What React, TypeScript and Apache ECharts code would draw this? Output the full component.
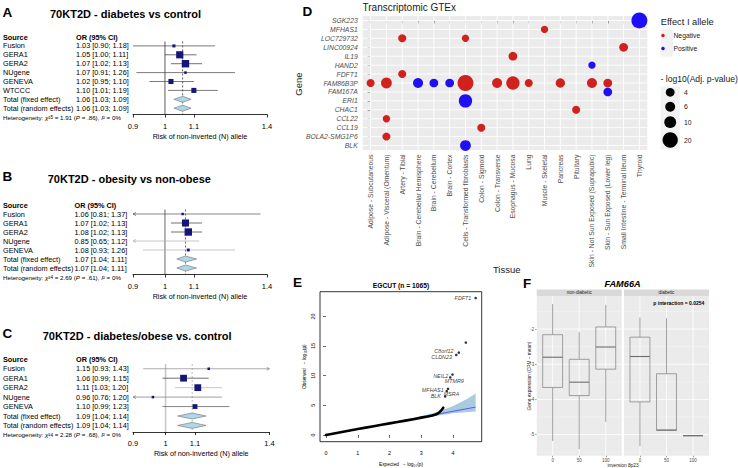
import React, { useEffect, useRef } from 'react';
import * as echarts from 'echarts';

const FONT = '"Liberation Sans", Arial, Helvetica, sans-serif';

// ---------------- Panels A–C : forest plots ----------------
const forestTicks = [0.9, 1, 1.1, 1.4];

const aStudies = ['Fusion', 'GERA1', 'GERA2', 'NUgene', 'GENEVA', 'WTCCC'];
const aOR = [1.03, 1.05, 1.07, 1.07, 1.02, 1.1];
const aLower = [0.9, 1.0, 1.02, 0.91, 0.95, 1.01];
const aUpper = [1.18, 1.11, 1.13, 1.26, 1.1, 1.19];
const aWeight = [5.5, 30, 32, 3.8, 15, 15];
const aFixed = [1.06, 1.03, 1.09];
const aRandom = [1.06, 1.03, 1.09];
const aHeterogeneity = ['5', '1.91', '.86', '0%'];

const bStudies = ['Fusion', 'GERA1', 'GERA2', 'NUgene', 'GENEVA'];
const bOR = [1.06, 1.07, 1.08, 0.85, 1.08];
const bLower = [0.81, 1.02, 1.02, 0.65, 0.93];
const bUpper = [1.37, 1.13, 1.13, 1.12, 1.26];
const bWeight = [5, 41, 45, 2, 7];
const bFixed = [1.07, 1.04, 1.11];
const bRandom = [1.07, 1.04, 1.11];
const bHeterogeneity = ['4', '2.69', '.61', '0%'];

const cStudies = ['Fusion', 'GERA1', 'GERA2', 'NUgene', 'GENEVA'];
const cOR = [1.15, 1.06, 1.11, 0.96, 1.1];
const cLower = [0.93, 0.99, 1.03, 0.76, 0.99];
const cUpper = [1.43, 1.15, 1.2, 1.2, 1.23];
const cWeight = [5, 36, 36, 5, 18];
const cFixed = [1.09, 1.04, 1.14];
const cRandom = [1.09, 1.04, 1.14];
const cHeterogeneity = ['4', '2.28', '.68', '0%'];

// ---------------- Panel D : GTEx bubbles ----------------
const tissues = [
  'Adipose - Subcutaneous', 'Adipose - Visceral (Omentum)', 'Artery - Tibial',
  'Brain - Cerebellar Hemisphere', 'Brain - Cerebellum', 'Brain - Cortex',
  'Cells - Transformed fibroblasts', 'Colon - Sigmoid', 'Colon - Transverse',
  'Esophagus - Mucosa', 'Lung', 'Muscle - Skeletal', 'Pancreas', 'Pituitary',
  'Skin - Not Sun Exposed (Suprapubic)', 'Skin - Sun Exposed (Lower leg)',
  'Small Intestine - Terminal Ileum', 'Thyroid',
];
const genes = [
  'SGK223', 'MFHAS1', 'LOC729732', 'LINC00924', 'IL19', 'HAND2', 'FDFT1', 'FAM86B3P',
  'FAM167A', 'ERI1', 'CHAC1', 'CCL22', 'CCL19', 'BOLA2-SMG1P6', 'BLK',
];
const dGene = [
  'SGK223', 'MFHAS1', 'LOC729732', 'LOC729732', 'LINC00924', 'IL19', 'HAND2', 'FDFT1',
  'FAM86B3P', 'FAM86B3P', 'FAM86B3P', 'FAM86B3P', 'FAM86B3P', 'FAM86B3P', 'FAM86B3P',
  'FAM86B3P', 'FAM86B3P', 'FAM86B3P', 'FAM86B3P', 'FAM86B3P', 'FAM167A', 'ERI1',
  'CHAC1', 'CCL22', 'CCL19', 'BOLA2-SMG1P6', 'BLK',
];
const dTissue = [
  'Thyroid', 'Muscle - Skeletal', 'Artery - Tibial', 'Cells - Transformed fibroblasts',
  'Small Intestine - Terminal Ileum', 'Esophagus - Mucosa', 'Skin - Not Sun Exposed (Suprapubic)',
  'Artery - Tibial', 'Adipose - Subcutaneous', 'Adipose - Visceral (Omentum)',
  'Brain - Cerebellar Hemisphere', 'Brain - Cerebellum', 'Brain - Cortex',
  'Cells - Transformed fibroblasts', 'Colon - Transverse', 'Esophagus - Mucosa', 'Lung',
  'Pancreas', 'Skin - Not Sun Exposed (Suprapubic)', 'Skin - Sun Exposed (Lower leg)',
  'Skin - Sun Exposed (Lower leg)', 'Cells - Transformed fibroblasts', 'Pituitary',
  'Adipose - Visceral (Omentum)', 'Colon - Sigmoid', 'Adipose - Visceral (Omentum)',
  'Cells - Transformed fibroblasts',
];
const dLogP = [
  22, 2.2, 3.0, 2.2, 4.0, 4.0, 2.2, 3.0,
  3.0, 7.6, 6.2, 4.0, 4.0, 22, 6.2, 13.9, 3.0, 4.9, 6.2, 4.0,
  4.0, 13.9, 3.0, 2.2, 3.0, 3.0, 7.6,
];
const dEffect = [
  'Positive', 'Negative', 'Negative', 'Negative', 'Negative', 'Negative', 'Positive', 'Negative',
  'Negative', 'Negative', 'Positive', 'Positive', 'Positive', 'Negative', 'Negative', 'Negative',
  'Negative', 'Negative', 'Negative', 'Negative', 'Positive', 'Positive', 'Negative', 'Negative',
  'Negative', 'Negative', 'Positive',
];
const effectLevels = ['Negative', 'Positive'];
const sizeLegendValues = [4, 6, 10, 20];

// ---------------- Panel E : QQ plot ----------------
const qqExpected = [0, 0.25, 0.5, 0.75, 1.0, 1.25, 1.5, 1.75, 2.0, 2.25, 2.5, 2.75, 3.0, 3.2, 3.35, 3.45, 3.52, 3.57, 3.61, 3.65, 3.69];
const qqObserved = [0, 0.25, 0.5, 0.75, 1.0, 1.24, 1.48, 1.72, 1.96, 2.19, 2.42, 2.66, 2.93, 3.13, 3.3, 3.45, 3.62, 3.85, 4.05, 4.3, 4.6];
const qqLine = [0, 4.71];
const bandExpected = [2.0, 2.5, 3.0, 3.5, 4.0, 4.3, 4.5, 4.71];
const bandUpper = [2.05, 2.6, 3.2, 3.9, 4.9, 5.7, 6.3, 7.0];
const bandLower = [1.95, 2.4, 2.85, 3.25, 3.65, 3.8, 3.9, 3.95];
const hitGenes = ['FDFT1', '', 'C8orf12', 'CLDN23', 'NEIL2', 'MTMR9', 'MFHAS1', 'MSRA', 'BLK'];
const hitExpected = [4.71, 4.4, 4.18, 4.1, 3.98, 3.91, 3.84, 3.8, 3.75];
const hitObserved = [23.1, 15.6, 13.9, 13.5, 10.2, 9.7, 7.8, 7.4, 6.5];
const qqXTicks = [0, 1, 2, 3, 4];
const qqYTicks = [0, 5, 10, 15, 20];

// ---------------- Panel F : boxplots ----------------
const fFacets = ['non-diabetic', 'diabetic'];
const fCategories = ['0', '50', '100'];
const fNonDiabeticMin = [-5.18, -5.41, -4.64];
const fNonDiabeticQ1 = [-3.66, -3.89, -3.14];
const fNonDiabeticMedian = [-2.8, -3.51, -2.51];
const fNonDiabeticQ3 = [-2.16, -2.86, -1.94];
const fNonDiabeticMax = [-1.29, -2.09, -1.31];
const fDiabeticMin = [-5.33, -4.88, -5.03];
const fDiabeticQ1 = [-4.07, -4.88, -5.03];
const fDiabeticMedian = [-2.78, -4.87, -5.03];
const fDiabeticQ3 = [-2.23, -3.27, -5.03];
const fDiabeticMax = [-1.67, -1.69, -5.03];
const fYTicks = [-5, -4, -3, -2];
const fYMinor = [-5.5, -4.5, -3.5, -2.5, -1.5];

// ---------------- helpers ----------------
function txt(text: string, x: number, y: number, size: number, o: any = {}) {
  return {
    type: 'text', x, y, silent: true, rotation: o.rot || 0, z: 10,
    style: {
      text, fill: o.color || '#000',
      font: `${o.style || 'normal'} ${o.weight || 'normal'} ${size}px ${FONT}`,
      textAlign: o.align || 'left', textVerticalAlign: 'middle',
    },
  };
}

function gridLines(gi: number, xs: number[], ys: number[], xr: number[], yr: number[], color: string, width: number) {
  const data = [...xs.map((v) => [v, yr[0], 0]), ...ys.map((v) => [xr[0], v, 1])];
  return {
    type: 'custom', xAxisIndex: gi, yAxisIndex: gi, z: 1, silent: true, clip: false, data,
    renderItem: (_p: any, api: any) => {
      const k = api.value(2);
      const a = k === 0 ? api.coord([api.value(0), yr[0]]) : api.coord([xr[0], api.value(1)]);
      const b = k === 0 ? api.coord([api.value(0), yr[1]]) : api.coord([xr[1], api.value(1)]);
      return { type: 'line', shape: { x1: a[0], y1: a[1], x2: b[0], y2: b[1] }, style: { stroke: color, lineWidth: width } };
    },
  };
}

const fmtCI = (o: number, l: number, h: number) => `${o.toFixed(2)} [${l.toFixed(2)}; ${h.toFixed(2)}]`;

function buildForest(d: any, L: any, opt: any, g: any[]) {
  const gi = opt.grid.length;
  const logTicks = forestTicks.map(Math.log);
  const xmin = logTicks[0];
  const xmax = logTicks[logTicks.length - 1];
  const n = d.studies.length;
  const rowY = (r: number) => L.rowY0 + r * L.rowH;
  const ymax = (L.axisY - L.rowY0) / L.rowH;
  const top = rowY(0.5);
  opt.grid.push({ left: L.left, top, width: L.right - L.left, height: L.axisY - top });
  opt.xAxis.push({
    type: 'value', gridIndex: gi, min: xmin, max: xmax,
    axisLine: { show: true, lineStyle: { color: '#000', width: 0.8 } },
    axisTick: { show: true, customValues: logTicks, length: 3, lineStyle: { color: '#000', width: 0.8 } },
    axisLabel: {
      customValues: logTicks, showMinLabel: true, showMaxLabel: true,
      formatter: (v: number) => String(+Math.exp(v).toFixed(2)),
      fontSize: 7.5, color: '#000', margin: 7.5, fontFamily: FONT,
    },
    splitLine: { show: false },
    name: 'Risk of non-inverted (N) allele', nameLocation: 'middle', nameGap: 18,
    nameTextStyle: { fontSize: 7.2, color: '#000', fontFamily: FONT },
  });
  opt.yAxis.push({ type: 'value', gridIndex: gi, min: 0.5, max: ymax, inverse: true, show: false });

  const maxW = Math.max(...d.weight);
  const marks: number[][] = [];
  d.studies.forEach((_s: string, i: number) =>
    marks.push([Math.log(d.or[i]), i + 1, Math.log(d.lower[i]), Math.log(d.upper[i]), d.weight[i], 0, i]));
  marks.push([Math.log(d.fixed[0]), n + 1, Math.log(d.fixed[1]), Math.log(d.fixed[2]), 0, 1, 0]);
  marks.push([Math.log(d.random[0]), n + 2, Math.log(d.random[1]), Math.log(d.random[2]), 0, 1, 0]);

  // reference lines (null effect & pooled estimate)
  opt.series.push({
    type: 'custom', xAxisIndex: gi, yAxisIndex: gi, z: 2, silent: true, clip: false,
    data: [[0, 0.5], [Math.log(d.fixed[0]), 0.5]],
    renderItem: (p: any, api: any) => {
      const v = api.value(0);
      const a = api.coord([v, 0.5]);
      const b = api.coord([v, ymax]);
      const st = p.dataIndex === 0 ? L.refSolid : L.refDash;
      return {
        type: 'line', shape: { x1: a[0], y1: a[1], x2: b[0], y2: b[1] },
        style: { stroke: st.color, lineWidth: st.width, lineDash: st.dash || null },
      };
    },
  });

  opt.series.push({
    type: 'custom', xAxisIndex: gi, yAxisIndex: gi, z: 3, silent: true, clip: false,
    data: marks, encode: { x: 0, y: 1 },
    renderItem: (_p: any, api: any) => {
      const est = api.value(0), row = api.value(1), lo = api.value(2), hi = api.value(3);
      const w = api.value(4), kind = api.value(5), si = api.value(6);
      const c = api.coord([est, row]);
      if (kind === 1) {
        const pl = api.coord([lo, row]);
        const ph = api.coord([hi, row]);
        const h = 3;
        return {
          type: 'polygon',
          shape: { points: [[pl[0], c[1]], [c[0], c[1] - h], [ph[0], c[1]], [c[0], c[1] + h]] },
          style: { fill: '#add8e6', stroke: '#7f7f7f', lineWidth: 0.7 },
        };
      }
      const stroke = L.ci[si];
      const p1 = api.coord([Math.max(lo, xmin), row]);
      const p2 = api.coord([Math.min(hi, xmax), row]);
      const children: any[] = [
        { type: 'line', shape: { x1: p1[0], y1: p1[1], x2: p2[0], y2: p2[1] }, style: { stroke, lineWidth: 0.7 } },
      ];
      if (lo < xmin) {
        children.push({ type: 'polyline', shape: { points: [[p1[0] + 3, p1[1] - 1.5], [p1[0], p1[1]], [p1[0] + 3, p1[1] + 1.5]] }, style: { stroke, fill: null, lineWidth: 0.7 } });
      }
      if (hi > xmax) {
        children.push({ type: 'polyline', shape: { points: [[p2[0] - 3, p2[1] - 1.5], [p2[0], p2[1]], [p2[0] - 3, p2[1] + 1.5]] }, style: { stroke, fill: null, lineWidth: 0.7 } });
      }
      if (est >= xmin && est <= xmax) {
        const s = L.maxBox * Math.sqrt(w / maxW);
        children.push({ type: 'rect', shape: { x: c[0] - s / 2, y: c[1] - s / 2, width: s, height: s }, style: { fill: '#16167a', stroke: null } });
      }
      return { type: 'group', children };
    },
  });

  // text columns
  g.push(txt(L.letter, 2.5, L.letterY, 13.5, { weight: 'bold' }));
  g.push(txt(d.title, L.titleX, L.titleY, 11, { weight: 'bold' }));
  const fs = 7.3;
  g.push(txt('Source', 3, rowY(0), fs, { weight: 'bold' }));
  g.push(txt('OR (95% CI)', L.orX, rowY(0), fs, { weight: 'bold' }));
  d.studies.forEach((s: string, i: number) => {
    g.push(txt(s, 3, rowY(i + 1), fs));
    g.push(txt(fmtCI(d.or[i], d.lower[i], d.upper[i]), L.orX, rowY(i + 1), fs));
  });
  g.push(txt('Total (fixed effect)', 3, rowY(n + 1), fs));
  g.push(txt(fmtCI(d.fixed[0], d.fixed[1], d.fixed[2]), L.orX, rowY(n + 1), fs));
  g.push(txt('Total (random effects)', 3, rowY(n + 2), fs));
  g.push(txt(fmtCI(d.random[0], d.random[1], d.random[2]), L.orX, rowY(n + 2), fs));
  const h = d.het;
  const hs = 6.2;
  g.push({
    type: 'text', x: 3, y: rowY(n + 3), silent: true, z: 10,
    style: {
      text: `{n|Heterogeneity: }{i|χ}{n|²}{s|${h[0]}}{n| = ${h[1]} (}{i|P}{n| = ${h[2]}), }{i|I}{n|² = ${h[3]}}`,
      textVerticalAlign: 'middle',
      rich: {
        n: { fontSize: hs, fontFamily: FONT, fill: '#000' },
        i: { fontSize: hs, fontFamily: FONT, fontStyle: 'italic', fill: '#000' },
        s: { fontSize: hs * 0.75, fontFamily: FONT, fill: '#000', verticalAlign: 'bottom' },
      },
    },
  });
}

function buildOption() {
  const opt: any = {
    animation: false, backgroundColor: '#fff', textStyle: { fontFamily: FONT },
    grid: [], xAxis: [], yAxis: [], series: [], graphic: [],
  };
  const g: any[] = [];

  buildForest(
    { title: '70KT2D - diabetes vs control', studies: aStudies, or: aOR, lower: aLower, upper: aUpper, weight: aWeight, fixed: aFixed, random: aRandom, het: aHeterogeneity },
    { letter: 'A', letterY: 12, titleX: 50, titleY: 13.7, rowY0: 37, rowH: 8.9, axisY: 114.5, left: 133, right: 267, orX: 76, maxBox: 7.4,
      refSolid: { color: '#333', width: 0.8 }, refDash: { color: '#333', width: 0.8, dash: [2, 2] },
      ci: ['#444', '#333', '#333', '#444', '#444', '#444'] },
    opt, g);
  buildForest(
    { title: '70KT2D - obesity vs non-obese', studies: bStudies, or: bOR, lower: bLower, upper: bUpper, weight: bWeight, fixed: bFixed, random: bRandom, het: bHeterogeneity },
    { letter: 'B', letterY: 176, titleX: 47.7, titleY: 179.3, rowY0: 205, rowH: 9.0, axisY: 274.5, left: 133, right: 267, orX: 74.5, maxBox: 7.4,
      refSolid: { color: '#444', width: 0.8 }, refDash: { color: '#444', width: 0.8, dash: [2, 2] },
      ci: ['#555', '#333', '#333', '#b0b0b0', '#b0b0b0'] },
    opt, g);
  buildForest(
    { title: '70KT2D - diabetes/obese vs. control', studies: cStudies, or: cOR, lower: cLower, upper: cUpper, weight: cWeight, fixed: cFixed, random: cRandom, het: cHeterogeneity },
    { letter: 'C', letterY: 333.3, titleX: 42.7, titleY: 336, rowY0: 359.3, rowH: 9.45, axisY: 432, left: 133, right: 269.5, orX: 76, maxBox: 6.8,
      refSolid: { color: '#c8c8c8', width: 1.6 }, refDash: { color: '#bdbdbd', width: 1, dash: [2, 2] },
      ci: ['#888', '#333', '#b0b0b0', '#777', '#555'] },
    opt, g);

  // ---------- D ----------
  {
    const gi = opt.grid.length;
    const xr = [-0.5, tissues.length - 0.5];
    const yr = [-0.5, genes.length - 0.5];
    opt.grid.push({ left: 362.7, top: 16, width: 284.6, height: 134, show: true, backgroundColor: '#ebebeb', borderWidth: 0 });
    const tIdx = tissues.map((_t, i) => i);
    const gIdx = genes.map((_t, i) => i);
    opt.xAxis.push({
      type: 'value', gridIndex: gi, min: xr[0], max: xr[1],
      axisLine: { show: false },
      axisTick: { show: true, customValues: tIdx, length: 3, lineStyle: { color: '#333', width: 0.6 } },
      axisLabel: { customValues: tIdx, formatter: (v: number) => tissues[Math.round(v)], rotate: 90, fontSize: 6.8, color: '#4d4d4d', margin: 4.5, fontFamily: FONT },
      splitLine: { show: false },
    });
    opt.yAxis.push({
      type: 'value', gridIndex: gi, min: yr[0], max: yr[1], inverse: true,
      axisLine: { show: false },
      axisTick: { show: true, customValues: gIdx, length: 3, lineStyle: { color: '#333', width: 0.6 } },
      axisLabel: { customValues: gIdx, formatter: (v: number) => genes[Math.round(v)], fontSize: 6.8, fontStyle: 'italic', color: '#4d4d4d', margin: 5, fontFamily: FONT },
      splitLine: { show: false },
    });
    opt.series.push(gridLines(gi, tIdx, gIdx, xr, yr, '#ffffff', 0.9));
    const bubble = (v: number) => 3.4 + 2.67 * Math.sqrt(v);
    const colors: any = { Negative: '#d0211f', Positive: '#1f0ff5' };
    effectLevels.forEach((eff) => {
      const data = dGene
        .map((gn, i) => ({ gn, i }))
        .filter((o) => dEffect[o.i] === eff)
        .map((o) => [tissues.indexOf(dTissue[o.i]), genes.indexOf(o.gn), dLogP[o.i]]);
      opt.series.push({
        type: 'scatter', name: eff, xAxisIndex: gi, yAxisIndex: gi, z: 3, silent: true,
        data, symbolSize: (val: number[]) => bubble(val[2]),
        itemStyle: { color: colors[eff], opacity: 1 },
      });
    });
    opt.legend = [{
      data: effectLevels, orient: 'vertical', left: 661.2, top: 32, itemWidth: 11, itemHeight: 3.5,
      itemGap: 6, icon: 'circle', selectedMode: false, padding: 0, z: 5,
      textStyle: { fontSize: 6.8, color: '#1a1a1a', fontFamily: FONT },
    }];
    g.push({ type: 'rect', z: 0, shape: { x: 660.5, y: 29.3, width: 12.5, height: 27.4 }, style: { fill: '#f2f2f2' } });
    g.push({ type: 'rect', z: 0, shape: { x: 660.5, y: 86.5, width: 19.3, height: 63 }, style: { fill: '#f2f2f2' } });
    const sizeY = [92.3, 106.7, 122.2, 140];
    sizeLegendValues.forEach((v, i) => {
      g.push({ type: 'circle', z: 2, shape: { cx: 670.2, cy: sizeY[i], r: bubble(v) / 2 }, style: { fill: '#000' } });
      g.push(txt(String(v), 684, sizeY[i], 6.8, { color: '#1a1a1a' }));
    });
    g.push(txt('Effect I allele', 660.7, 21.7, 9.3, { color: '#1a1a1a' }));
    g.push(txt('- log10(Adj. p-value)', 660.5, 79, 8.6, { color: '#1a1a1a' }));
    g.push(txt('D', 302.5, 11, 13.5, { weight: 'bold' }));
    g.push(txt('Transcriptomic GTEx', 362.5, 7.5, 10, { color: '#1a1a1a' }));
    g.push(txt('Gene', 298.5, 84, 9.5, { rot: Math.PI / 2, align: 'center', color: '#1a1a1a' }));
    g.push(txt('Tissue', 506.7, 269.3, 9.5, { align: 'center', color: '#1a1a1a' }));
  }

  // ---------- E ----------
  {
    const gi = opt.grid.length;
    opt.grid.push({ left: 320, top: 291.7, width: 161.7, height: 150, show: true, backgroundColor: '#fff', borderColor: '#000', borderWidth: 0.8 });
    opt.xAxis.push({
      type: 'value', gridIndex: gi, min: -0.19, max: 4.9,
      axisLine: { show: false },
      axisTick: { show: true, customValues: qqXTicks, length: 3, lineStyle: { color: '#000', width: 0.6 } },
      axisLabel: { customValues: qqXTicks, fontSize: 5.4, color: '#000', margin: 9, fontFamily: FONT },
      splitLine: { show: false },
    });
    opt.yAxis.push({
      type: 'value', gridIndex: gi, min: -1.13, max: 24.17,
      axisLine: { show: false },
      axisTick: { show: true, customValues: qqYTicks, length: 3, lineStyle: { color: '#000', width: 0.6 } },
      axisLabel: { customValues: qqYTicks, fontSize: 5.4, color: '#000', margin: 5, rotate: 90, fontFamily: FONT },
      splitLine: { show: false },
    });
    opt.series.push({
      type: 'custom', xAxisIndex: gi, yAxisIndex: gi, z: 1, silent: true, data: [[bandExpected[0], bandLower[0]]],
      renderItem: (_p: any, api: any) => {
        const up = bandExpected.map((x, i) => api.coord([x, bandUpper[i]]));
        const lo = bandExpected.map((x, i) => api.coord([x, bandLower[i]])).reverse();
        return { type: 'polygon', shape: { points: [...up, ...lo] }, style: { fill: '#a9cbe0', stroke: null } };
      },
    });
    opt.series.push({
      type: 'line', xAxisIndex: gi, yAxisIndex: gi, z: 2, silent: true, showSymbol: false,
      data: qqLine.map((v) => [v, v]), lineStyle: { color: '#3d3dff', width: 0.8 },
    });
    opt.series.push({
      type: 'line', xAxisIndex: gi, yAxisIndex: gi, z: 3, silent: true, showSymbol: false,
      data: qqExpected.map((x, i) => [x, qqObserved[i]]), lineStyle: { color: '#000', width: 2.6, cap: 'round', join: 'round' },
    });
    const labelCfg = [
      { position: 'left', distance: 3 },
      { show: false },
      { position: 'left', distance: 4, offset: [0, -1.2] },
      { position: 'left', distance: 3, offset: [0, 2.2] },
      { position: 'left', distance: 3, offset: [0, 1] },
      { position: 'bottom', distance: 0, offset: [4, -0.5] },
      { position: 'left', distance: 3, offset: [0, 1] },
      { position: 'bottom', distance: 0, offset: [4.7, -1] },
      { position: 'left', distance: 3 },
    ];
    opt.series.push({
      type: 'scatter', xAxisIndex: gi, yAxisIndex: gi, z: 4, silent: true, symbolSize: 2.6,
      itemStyle: { color: '#000' },
      label: { show: true, fontSize: 5.4, fontStyle: 'italic', color: '#000', fontFamily: FONT, formatter: (p: any) => hitGenes[p.dataIndex] },
      data: hitExpected.map((x, i) => ({ value: [x, hitObserved[i]], label: labelCfg[i] })),
    });
    g.push(txt('E', 293, 282, 13.5, { weight: 'bold' }));
    g.push(txt('EGCUT (n = 1065)', 401, 285.5, 6.7, { weight: 'bold', align: 'center' }));
    g.push(txt('Expected   − log₁₀(p)', 401, 464, 4.8, { align: 'center' }));
    g.push(txt('Observed   − log₁₀(p)', 304, 366.7, 4.8, { align: 'center', rot: Math.PI / 2 }));
  }

  // ---------- F ----------
  {
    const panels = [
      { left: 536.7, min: fNonDiabeticMin, q1: fNonDiabeticQ1, med: fNonDiabeticMedian, q3: fNonDiabeticQ3, max: fNonDiabeticMax },
      { left: 624, min: fDiabeticMin, q1: fDiabeticQ1, med: fDiabeticMedian, q3: fDiabeticQ3, max: fDiabeticMax },
    ];
    const xr = [0.4, fCategories.length + 0.6];
    const yr = [-5.6, -1.06];
    const xIdx = fCategories.map((_c, i) => i + 1);
    panels.forEach((P, k) => {
      const gi = opt.grid.length;
      opt.grid.push({ left: P.left, top: 296, width: 85, height: 159.7, show: true, backgroundColor: '#ebebeb', borderWidth: 0 });
      opt.xAxis.push({
        type: 'value', gridIndex: gi, min: xr[0], max: xr[1],
        axisLine: { show: false },
        axisTick: { show: true, customValues: xIdx, length: 1.5, lineStyle: { color: '#333', width: 0.5 } },
        axisLabel: { customValues: xIdx, formatter: (v: number) => fCategories[Math.round(v) - 1], fontSize: 4.5, color: '#4d4d4d', margin: 2.5, fontFamily: FONT },
        splitLine: { show: false },
      });
      opt.yAxis.push({
        type: 'value', gridIndex: gi, min: yr[0], max: yr[1],
        axisLine: { show: false },
        axisTick: { show: k === 0, customValues: fYTicks, length: 1.5, lineStyle: { color: '#333', width: 0.5 } },
        axisLabel: { show: k === 0, customValues: fYTicks, fontSize: 4.5, color: '#4d4d4d', margin: 2.5, fontFamily: FONT },
        splitLine: { show: false },
      });
      opt.series.push(gridLines(gi, [], fYMinor, xr, yr, '#f7f7f7', 0.4));
      opt.series.push(gridLines(gi, xIdx, fYTicks, xr, yr, '#ffffff', 0.8));
      opt.series.push({
        type: 'custom', xAxisIndex: gi, yAxisIndex: gi, z: 3, silent: true, clip: false,
        data: xIdx.map((x, i) => [x, P.min[i], P.q1[i], P.med[i], P.q3[i], P.max[i]]),
        encode: { x: 0, y: 3 },
        renderItem: (_p: any, api: any) => {
          const x = api.value(0);
          const mn = api.value(1), q1 = api.value(2), md = api.value(3), q3 = api.value(4), mx = api.value(5);
          const cx = api.coord([x, md])[0];
          const Y = (v: number) => api.coord([x, v])[1];
          const hw = api.size([0.75, 0])[0] / 2;
          const col = '#8a8a8a';
          const ln = (x1: number, y1: number, x2: number, y2: number, c: string, w: number) =>
            ({ type: 'line', shape: { x1, y1, x2, y2 }, style: { stroke: c, lineWidth: w } });
          return {
            type: 'group', children: [
              ln(cx, Y(mx), cx, Y(q3), col, 0.8),
              ln(cx, Y(q1), cx, Y(mn), col, 0.8),
              { type: 'rect', shape: { x: cx - hw, y: Y(q3), width: 2 * hw, height: Y(q1) - Y(q3) }, style: { fill: null, stroke: col, lineWidth: 0.8 } },
              ln(cx - hw, Y(md), cx + hw, Y(md), '#6b6b6b', 1.1),
            ],
          };
        },
      });
      g.push({ type: 'rect', z: 1, shape: { x: P.left, y: 289.5, width: 85, height: 6.5 }, style: { fill: '#d9d9d9' } });
      g.push(txt(fFacets[k], P.left + 42.5, 292.8, 4.6, { align: 'center', color: '#1a1a1a' }));
    });
    g.push(txt('F', 523, 283.5, 13.5, { weight: 'bold' }));
    g.push(txt('FAM66A', 622.5, 284, 9.2, { weight: 'bold', style: 'italic', align: 'center' }));
    g.push(txt('p interaction = 0.0254', 653.3, 303.3, 5, { weight: 'bold' }));
    g.push(txt('inversion 8p23', 623, 465.3, 4.8, { align: 'center', color: '#1a1a1a' }));
    g.push(txt('Gene expression (CPM – mean)', 529.3, 376, 4.8, { align: 'center', rot: Math.PI / 2, color: '#1a1a1a' }));
  }

  opt.graphic = [{ type: 'group', children: g }];
  return opt;
}

export default function App() {
  const ref = useRef<HTMLDivElement>(null);
  useEffect(() => {
    document.body.style.margin = '0';
    const chart = echarts.init(ref.current as HTMLDivElement, null, { renderer: 'svg', width: 738, height: 468 });
    chart.setOption(buildOption());
    return () => chart.dispose();
  }, []);
  return <div ref={ref} style={{ width: 738, height: 468, background: '#fff' }} />;
}
